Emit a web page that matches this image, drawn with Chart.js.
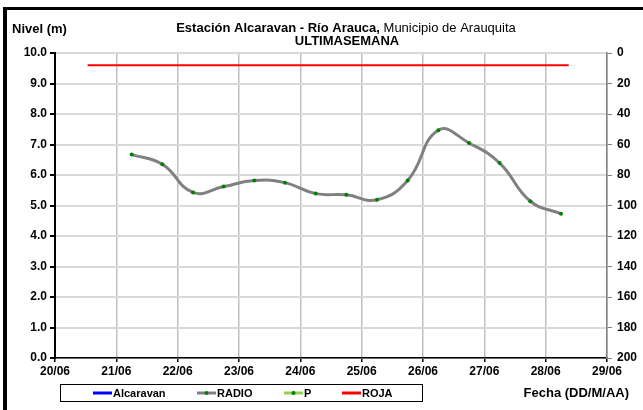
<!DOCTYPE html>
<html><head><meta charset="utf-8">
<script src="https://cdn.jsdelivr.net/npm/chart.js@4/dist/chart.umd.min.js"></script>
<style>html,body{margin:0;padding:0;background:#fff}#wrap{position:relative;width:643px;height:410px}</style>
</head><body><div id="wrap"><canvas id="c" width="643" height="410"></canvas></div>
<script>
// ---- data ----
const xTickLabels = ['20/06','21/06','22/06','23/06','24/06','25/06','26/06','27/06','28/06','29/06'];
const radioTimes = ['21/06 06:00','21/06 18:00','22/06 06:00','22/06 18:00','23/06 06:00','23/06 18:00',
  '24/06 06:00','24/06 18:00','25/06 06:00','25/06 18:00','26/06 06:00','26/06 18:00','27/06 06:00','27/06 18:00','28/06 06:00'];
const radioValues = [6.67,6.35,5.43,5.62,5.82,5.75,5.39,5.35,5.19,5.82,7.47,7.05,6.39,5.14,4.73];
const rojaTimes = ['20/06 12:45','28/06 09:00'];
const rojaValues = [9.6,9.6];
const alcaravanValues = [];
const pValues = [];
const seriesNames = ['Alcaravan','RADIO','P','ROJA'];
const leftMin = 0, leftMax = 10, leftStep = 1;
const rightMin = 0, rightMax = 200, rightStep = 20;

function toDay(s){
  const [d, t] = s.split(' ');
  const day = parseInt(d.split('/')[0],10) - 20;
  const [h, m] = t.split(':').map(Number);
  return day + h/24 + m/1440;
}
const radioData = radioTimes.map((t,i)=>({x:toDay(t), y:radioValues[i]}));
const rojaData = rojaTimes.map((t,i)=>({x:toDay(t), y:rojaValues[i]}));

const FONT = '"Liberation Sans", Arial, sans-serif';

const deco = {
  id:'deco',
  afterDraw(chart){
    const ctx = chart.ctx;
    ctx.save();
    // frame
    ctx.fillStyle = '#000';
    ctx.fillRect(3, 7, 640, 3);
    ctx.fillRect(3, 7, 4, 403);
    // texts
    ctx.fillStyle = '#000';
    ctx.textBaseline = 'middle';
    ctx.font = 'bold 13px ' + FONT;
    ctx.textAlign = 'left';
    ctx.fillText('Nivel (m)', 12, 29);
    const t1 = 'Estación Alcaravan - Río Arauca,';
    const t2 = ' Municipio de Arauquita';
    ctx.font = 'bold 13px ' + FONT;
    const w1 = ctx.measureText(t1).width;
    ctx.font = '13px ' + FONT;
    const w2 = ctx.measureText(t2).width;
    let x0 = 346 - (w1 + w2)/2;
    ctx.font = 'bold 13px ' + FONT;
    ctx.fillText(t1, x0, 28);
    ctx.font = '13px ' + FONT;
    ctx.fillText(t2, x0 + w1, 28);
    ctx.font = 'bold 13px ' + FONT;
    ctx.textAlign = 'center';
    ctx.fillText('ULTIMASEMANA', 347, 41);
    ctx.textAlign = 'right';
    ctx.fillText('Fecha (DD/M/AA)', 629, 393);
    // legend
    ctx.strokeStyle = '#000';
    ctx.lineWidth = 1;
    ctx.strokeRect(60.5, 384.5, 362, 17);
    const ds = chart.data.datasets;
    const lx = [93, 197, 284, 342];
    ctx.font = 'bold 11px ' + FONT;
    ctx.textAlign = 'left';
    ds.forEach((d, i) => {
      const x = lx[i], y = 393;
      ctx.strokeStyle = d.borderColor;
      ctx.lineWidth = 3;
      ctx.beginPath(); ctx.moveTo(x, y); ctx.lineTo(x + 19, y); ctx.stroke();
      if (d.legendDot) {
        ctx.fillStyle = d.pointBackgroundColor;
        ctx.beginPath(); ctx.arc(x + 9.5, y, 2, 0, Math.PI*2); ctx.fill();
      }
      ctx.fillStyle = '#000';
      ctx.fillText(d.label, x + 20, y + 1);
    });
    ctx.restore();
  }
};

new Chart(document.getElementById('c'), {
  type: 'line',
  data: {
    datasets: [
      {label: seriesNames[0], data: alcaravanValues, borderColor:'#0000ff', backgroundColor:'#0000ff', borderWidth:3, pointRadius:0, yAxisID:'y'},
      {label: seriesNames[1], data: radioData, borderColor:'#808080', backgroundColor:'#808080', borderWidth:3,
        pointRadius:2, pointBackgroundColor:'#008000', pointBorderColor:'#008000', pointBorderWidth:0,
        tension:0.45, cubicInterpolationMode:'default', legendDot:true, yAxisID:'y'},
      {label: seriesNames[2], data: pValues, borderColor:'#92d050', backgroundColor:'#92d050', borderWidth:3,
        pointRadius:0, pointBackgroundColor:'#008000', legendDot:true, yAxisID:'y'},
      {label: seriesNames[3], data: rojaData, borderColor:'#ff0000', backgroundColor:'#ff0000', borderWidth:2, pointRadius:0, yAxisID:'y'}
    ]
  },
  options: {
    responsive:false, animation:false, devicePixelRatio:1,
    layout:{padding:{top:53,left:0,right:0,bottom:0}},
    plugins:{legend:{display:false}, title:{display:false}, tooltip:{enabled:false}},
    scales:{
      x:{type:'linear', position:'bottom', min:0, max:xTickLabels.length-1,
        ticks:{stepSize:1, autoSkip:false, maxRotation:0, color:'#000', padding:2,
          font:{family:FONT, size:12, weight:'bold'}, callback:v=>xTickLabels[v] ?? ''},
        grid:{color:'#c0c0c0', lineWidth:1.5, tickColor:'#000', tickLength:4},
        border:{color:'#000', width:1.5},
        afterFit:s=>{s.height=52;}},
      y:{type:'linear', position:'left', min:leftMin, max:leftMax,
        ticks:{stepSize:leftStep, color:'#000', padding:3, font:{family:FONT, size:12, weight:'bold'}, callback:v=>Number(v).toFixed(1)},
        grid:{color:'#d9d9d9', lineWidth:2, tickColor:'#000', tickLength:5},
        border:{color:'#000', width:2},
        afterFit:s=>{s.width=55;}},
      y2:{type:'linear', position:'right', reverse:true, min:rightMin, max:rightMax,
        ticks:{stepSize:rightStep, color:'#000', padding:5, font:{family:FONT, size:12, weight:'bold'}},
        grid:{drawOnChartArea:false, tickColor:'#808080', tickLength:5},
        border:{color:'#808080', width:1.5},
        afterFit:s=>{s.width=36;}}
    }
  },
  plugins:[deco]
});
</script></body></html>
